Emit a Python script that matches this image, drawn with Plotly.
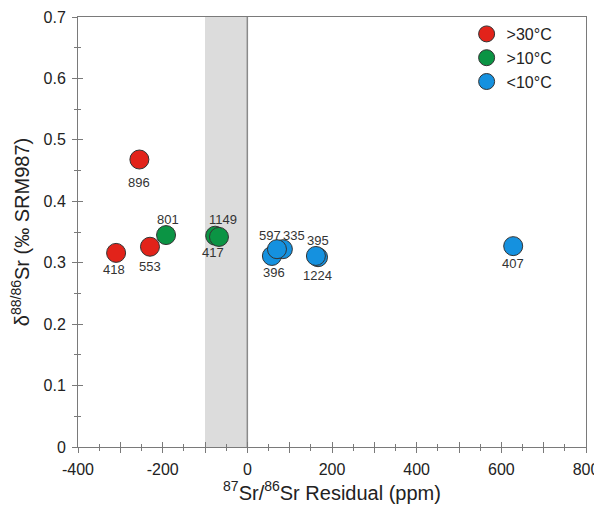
import plotly.graph_objects as go

# ---- data ----
groups = [">30°C", ">10°C", "<10°C"]
colors = ["#e2231a", "#0b9444", "#1591df"]

hot_ids = ["418", "553", "896"]
hot_x = [-310, -230, -255]
hot_y = [0.316, 0.326, 0.468]

warm_ids = ["801", "417", "1149"]
warm_x = [-192, -76, -67]
warm_y = [0.345, 0.344, 0.342]

cold_ids = ["396", "335", "597", "1224", "395", "407"]
cold_x = [58, 84, 70, 167, 162, 628]
cold_y = [0.311, 0.322, 0.322, 0.309, 0.311, 0.327]

band_x = [-100, 0]

x_tickvals = [-400, -300, -200, -100, 0, 100, 200, 300, 400, 500, 600, 700, 800]
x_ticktext = ["-400", " ", "-200", " ", "0", " ", "200", " ", "400", " ", "600", " ", "800"]
y_tickvals = [0, 0.1, 0.2, 0.3, 0.4, 0.5, 0.6, 0.7]
y_ticktext = ["0", "0.1", "0.2", "0.3", "0.4", "0.5", "0.6", "0.7"]

# label placement (pixel offsets from the marker)
label_offset = {
    "896": (0, -23), "418": (-2, -17), "553": (0, -20),
    "801": (2, 16), "1149": (4, 17), "417": (-2, -17),
    "597": (-7, 14), "335": (11, 14), "396": (2, -17),
    "395": (2, 15), "1224": (-1, -18), "407": (0, -17),
}

fig = go.Figure()

fig.add_vrect(x0=band_x[0], x1=band_x[1], fillcolor="#dcdcdc", line_width=0, layer="below")
fig.add_vline(x=band_x[1], line=dict(color="#8a8a8a", width=1.5), layer="below")

series = [(hot_ids, hot_x, hot_y), (warm_ids, warm_x, warm_y), (cold_ids, cold_x, cold_y)]
for name, col, (ids, xs, ys) in zip(groups, colors, series):
    fig.add_trace(go.Scatter(
        x=xs, y=ys, mode="markers", name=name,
        marker=dict(size=19, color=col, line=dict(color="#333333", width=1)),
        hoverinfo="skip",
    ))
    for i, xv, yv in zip(ids, xs, ys):
        dx, dy = label_offset[i]
        fig.add_annotation(x=xv, y=yv, text=i, showarrow=False, xshift=dx, yshift=dy,
                           font=dict(family="Liberation Sans, Arial", size=13, color="#333333"))

# overlay axis for inward ticks (ticks cross the axis line)
fig.add_trace(go.Scatter(x=[None], y=[None], xaxis="x2", yaxis="y2", showlegend=False, hoverinfo="skip"))

tickfont = dict(family="Liberation Sans, Arial", size=16, color="#222222")
common_x = dict(range=[-400, 800], tickmode="array", tickvals=x_tickvals, automargin=False)
common_y = dict(range=[0, 0.7], tickmode="array", tickvals=y_tickvals, automargin=False)

fig.update_layout(
    width=594, height=505,
    margin=dict(l=70, r=16, t=9, b=66),
    paper_bgcolor="white", plot_bgcolor="white",
    font=dict(family="Liberation Sans, Arial", color="#222222"),
    xaxis=dict(**common_x, ticktext=x_ticktext, showgrid=False, zeroline=False, showline=True,
               linecolor="#7a7a7a", linewidth=1, mirror=True, ticks="outside", ticklen=5,
               tickcolor="#7a7a7a", ticklabelstandoff=3,
               minor=dict(dtick=50, tick0=0, ticks="outside", ticklen=3, tickcolor="#7a7a7a"),
               tickfont=tickfont,
               title=dict(text="<sup>87</sup>Sr/<sup>86</sup>Sr Residual (ppm)",
                          font=dict(size=20, color="#222222"), standoff=8)),
    yaxis=dict(**common_y, ticktext=y_ticktext, showgrid=False, zeroline=False, showline=True,
               linecolor="#7a7a7a", linewidth=1, mirror=True, ticks="outside", ticklen=5,
               tickcolor="#7a7a7a", ticklabelstandoff=3,
               minor=dict(dtick=0.05, tick0=0, ticks="outside", ticklen=3, tickcolor="#7a7a7a"),
               tickfont=tickfont,
               title=dict(text="δ<sup>88/86</sup>Sr (‰ SRM987)",
                          font=dict(size=20, color="#222222"), standoff=8)),
    xaxis2=dict(**common_x, overlaying="x", anchor="y2", side="bottom", showgrid=False,
                zeroline=False, showticklabels=False, ticks="inside", ticklen=5,
                tickcolor="#7a7a7a",
                minor=dict(dtick=50, tick0=0, ticks="inside", ticklen=3, tickcolor="#7a7a7a")),
    yaxis2=dict(**common_y, overlaying="y", anchor="x2", side="left", showgrid=False,
                zeroline=False, showticklabels=False, ticks="inside", ticklen=5,
                tickcolor="#7a7a7a",
                minor=dict(dtick=0.05, tick0=0, ticks="inside", ticklen=3, tickcolor="#7a7a7a")),
    legend=dict(x=0.765, y=1.0, xanchor="left", yanchor="top",
                bgcolor="rgba(0,0,0,0)",
                font=dict(family="Liberation Sans, Arial", size=16, color="#222222"),
                itemwidth=30, tracegroupgap=0),
    showlegend=True,
)

fig.write_html("out.html")
